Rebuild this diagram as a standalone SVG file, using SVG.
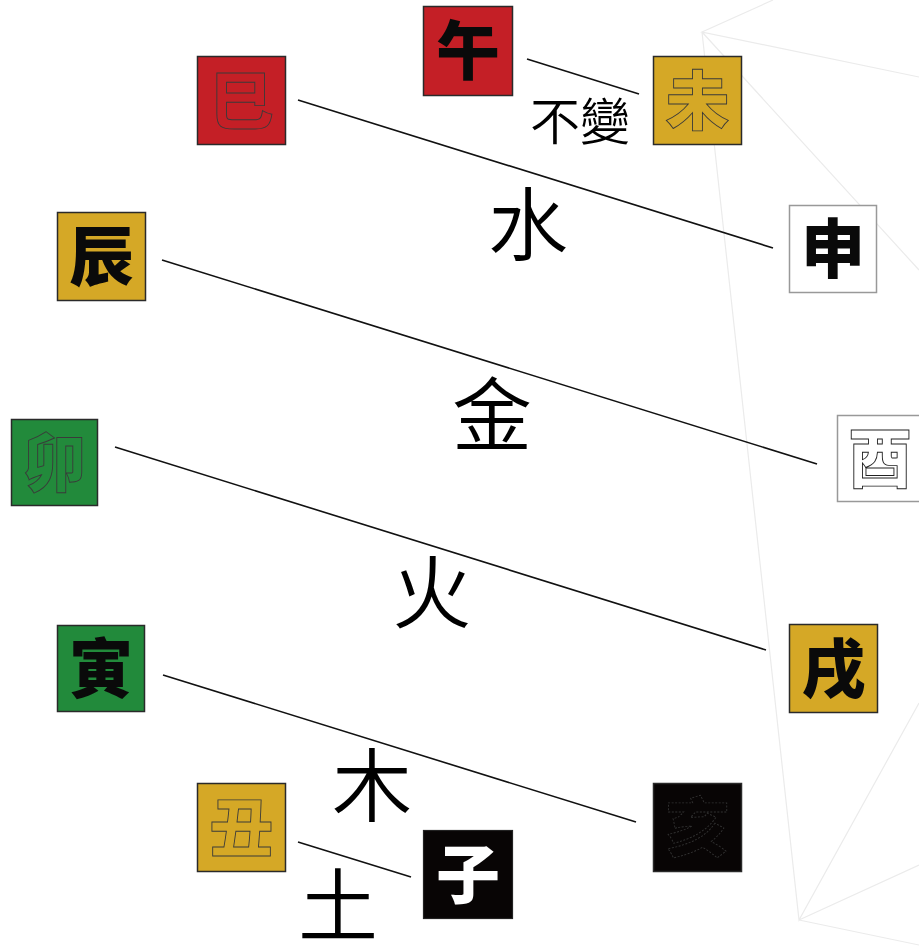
<svg xmlns="http://www.w3.org/2000/svg" width="919" height="947" viewBox="0 0 919 947">
<style>
.bg{stroke:#ebebeb;stroke-width:1.2;fill:none}
.con{stroke:#111;stroke-width:1.6;fill:none}
.box{stroke:#2a2a2a;stroke-width:1.5}
.wbox{fill:#fff;stroke:#999;stroke-width:1.5}
.red{fill:#c41f26}
.gold{fill:#d5a826}
.green{fill:#228a3b}
.blk{fill:#080505}
.g{font-family:"Noto Sans CJK TC","Noto Sans CJK SC",sans-serif;font-size:64px;font-weight:900;text-anchor:middle}
.solid{fill:#0a0a0a}
.ol{stroke:#3a3a3a;stroke-width:0.9}
.lbl{font-family:"Noto Sans CJK TC","Noto Sans CJK SC",sans-serif;font-size:80px;font-weight:350;text-anchor:middle;fill:#000}
</style>
<rect width="919" height="947" fill="#fff"/>
<g id="background">
<path class="bg" d="M773 0 L702 32 L919 77 M702 32 L919 270 M702 32 L799 920 L919 703 M799 920 L919 865 M799 920 L919 945"/>
</g>
<g id="connectors">
<line class="con" x1="527" y1="59" x2="639" y2="94"/>
<line class="con" x1="298" y1="100" x2="773" y2="248"/>
<line class="con" x1="162" y1="260" x2="817" y2="464"/>
<line class="con" x1="115" y1="447" x2="766" y2="650"/>
<line class="con" x1="163" y1="675" x2="636" y2="822"/>
<line class="con" x1="298" y1="842" x2="411" y2="877"/>
</g>
<g id="wu">
<rect class="box red" x="423.5" y="6.5" width="89" height="89"/>
<text class="g solid" x="468" y="74">午</text>
</g>
<g id="wei">
<rect class="box gold" x="653.5" y="56.5" width="88" height="88"/>
<text class="g gold ol" x="697.5" y="124">未</text>
</g>
<g id="si">
<rect class="box red" x="197.5" y="56.5" width="88" height="88"/>
<text class="g red ol" x="241.5" y="124">巳</text>
</g>
<g id="shen">
<rect class="wbox" x="789.5" y="205.5" width="87" height="87"/>
<text class="g solid" x="833" y="272">申</text>
</g>
<g id="chen">
<rect class="box gold" x="57.5" y="212.5" width="88" height="88"/>
<text class="g solid" x="101.5" y="280">辰</text>
</g>
<g id="you">
<rect class="wbox" x="837.5" y="415.5" width="90" height="86"/>
<text class="g" x="880" y="482" fill="#fff" stroke="#222" stroke-width="0.9">酉</text>
</g>
<g id="mao">
<rect class="box green" x="11.5" y="419.5" width="86" height="86"/>
<text class="g green ol" x="54.5" y="486">卯</text>
</g>
<g id="xu">
<rect class="box gold" x="789.5" y="624.5" width="88" height="88"/>
<text class="g solid" x="833.5" y="692">戌</text>
</g>
<g id="yin">
<rect class="box green" x="57.5" y="625.5" width="87" height="86"/>
<text class="g solid" x="101" y="692">寅</text>
</g>
<g id="hai">
<rect class="box blk" x="653.5" y="783.5" width="88" height="88"/>
<text class="g" x="697.5" y="851" fill="#080505" stroke="#333" stroke-width="0.9" stroke-dasharray="2 1.5">亥</text>
</g>
<g id="chou">
<rect class="box gold" x="197.5" y="783.5" width="88" height="88"/>
<text class="g gold ol" x="241.5" y="851">丑</text>
</g>
<g id="zi">
<rect class="blk" x="423.5" y="830.5" width="89" height="88" stroke="#222" stroke-width="1.2"/>
<text class="g" x="468" y="898" fill="#fff">子</text>
</g>
<g id="labels">
<text class="lbl" x="580" y="140" style="font-size:50px">不變</text>
<text class="lbl" x="528" y="254">水</text>
<text class="lbl" x="492" y="444">金</text>
<text class="lbl" x="432" y="622">火</text>
<text class="lbl" x="372" y="815">木</text>
<text class="lbl" x="338" y="935">土</text>
</g>
</svg>
